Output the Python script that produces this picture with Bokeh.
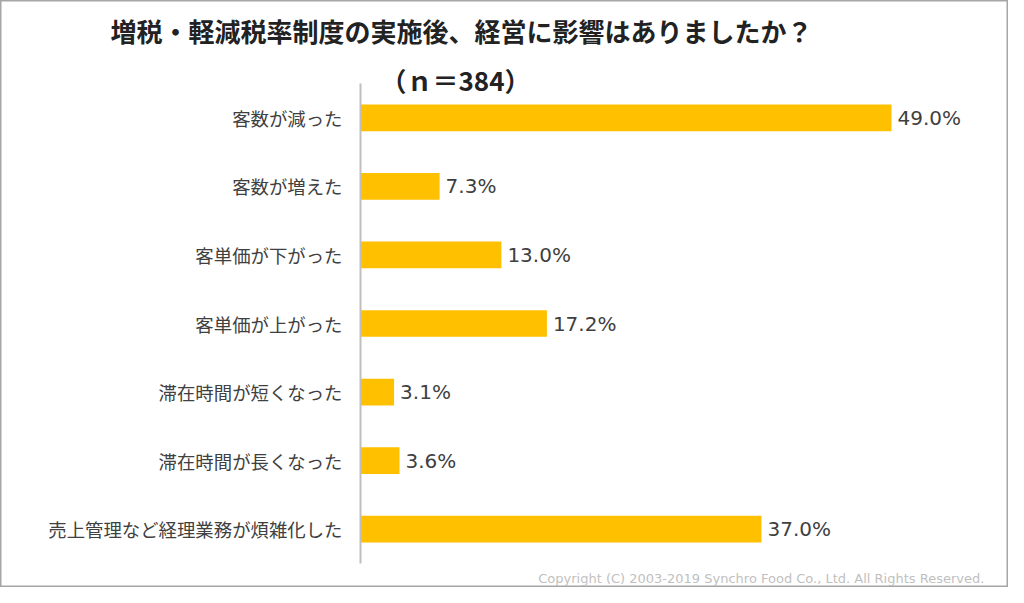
from bokeh.plotting import figure
from bokeh.models import ColumnDataSource, Range1d, Label
from bokeh.core.properties import value
from bokeh.embed import file_html
from bokeh.resources import INLINE

categories = [
    "客数が減った",
    "客数が増えた",
    "客単価が下がった",
    "客単価が上がった",
    "滞在時間が短くなった",
    "滞在時間が長くなった",
    "売上管理など経理業務が煩雑化した",
]
values = [49.0, 7.3, 13.0, 17.2, 3.1, 3.6, 37.0]
value_labels = [f"{v:.1f}%" for v in values]

title_text = "増税・軽減税率制度の実施後、経営に影響はありましたか？"
subtitle_text = "（ｎ＝384）"
copyright_text = "Copyright (C) 2003-2019  Synchro Food Co., Ltd. All Rights Reserved."

W, H = 1008, 587
n = len(categories)
idx = list(range(n))

# layout geometry (pixels)
frame_left_px = 360          # position of value 0
px_per_pct = 531 / 49.0      # bar scale
band_top_px, band_bottom_px = 83, 563
band = (band_bottom_px - band_top_px) / n
c0 = band_top_px + band / 2

src = ColumnDataSource(dict(i=idx, cat=categories, val=values, lab=value_labels,
                            zero=[0] * n))

p = figure(
    width=W, height=H,
    x_range=Range1d(-frame_left_px / px_per_pct, (W - frame_left_px) / px_per_pct),
    y_range=Range1d((H - c0) / band, -c0 / band),
    x_axis_type=None, y_axis_type=None,
    output_backend="svg", toolbar_location=None, title=None,
    min_border=0, min_border_left=0, min_border_right=0,
    min_border_top=0, min_border_bottom=0,
)
p.xgrid.visible = False
p.ygrid.visible = False
p.outline_line_color = "#a6a6a6"
p.outline_line_width = 2

# bars
p.hbar(y="i", left=0, right="val", height=0.39, source=src,
       fill_color="#FFC000", line_color=None)

# category axis line
p.segment(x0=[0], y0=[-0.5], x1=[0], y1=[n - 0.5],
          line_color="#bfbfbf", line_width=2)

# category labels
p.text(x="zero", y="i", text="cat", source=src, x_offset=-18,
       text_align="right", text_baseline="middle",
       text_font=value("Noto Sans CJK JP"), text_font_size="18.4px",
       text_color="#404040")

# value labels
p.text(x="val", y="i", text="lab", source=src, x_offset=6,
       text_align="left", text_baseline="middle",
       text_font=value("DejaVu Sans"), text_font_size="20px",
       text_color="#404040")

p.add_layout(Label(x=461, y=H - 30, x_units="screen", y_units="screen", text=title_text,
                   text_align="center", text_baseline="middle",
                   text_font="Noto Sans CJK JP", text_font_style="bold",
                   text_font_size="26px", text_color="#222222"))
p.add_layout(Label(x=380, y=H - 79, x_units="screen", y_units="screen", text=subtitle_text,
                   text_align="left", text_baseline="middle",
                   text_font="Noto Sans CJK JP", text_font_style="bold",
                   text_font_size="26px", text_color="#222222"))
p.add_layout(Label(x=988, y=H - 578, x_units="screen", y_units="screen", text=copyright_text,
                   text_align="right", text_baseline="middle",
                   text_font="DejaVu Sans",
                   text_font_size="13px", text_color="#bfbfbf"))

open("out.html", "w").write(file_html(p, INLINE))
